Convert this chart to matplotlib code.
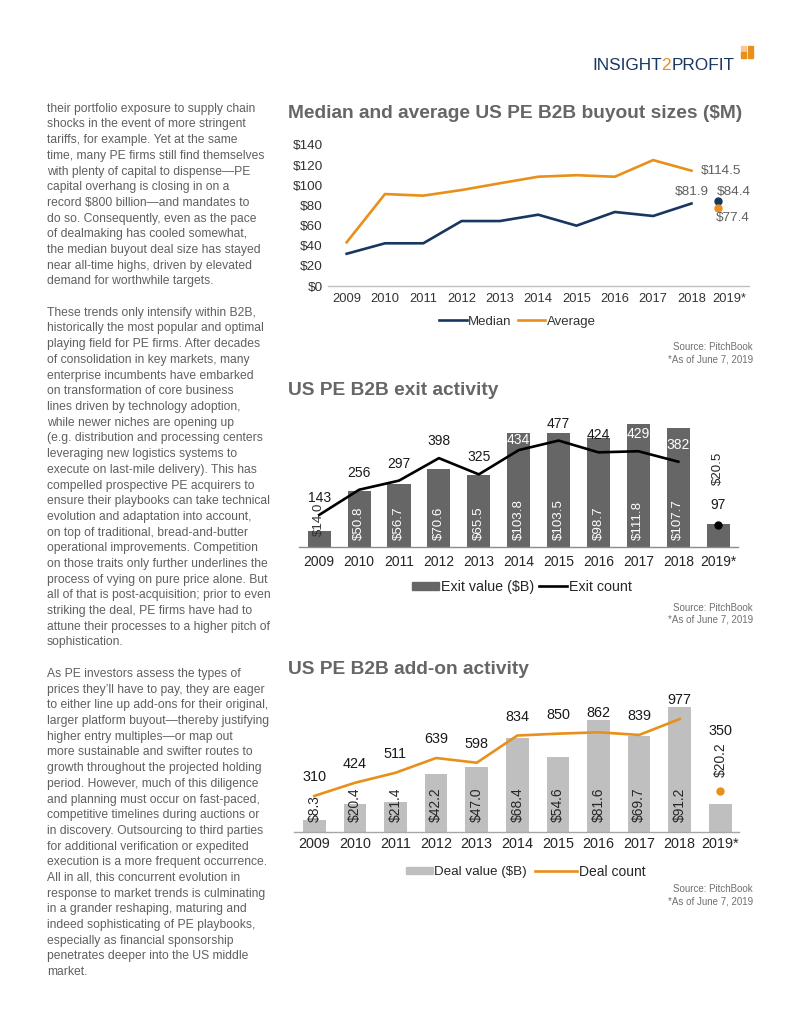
import matplotlib.pyplot as plt
from matplotlib.lines import Line2D
from matplotlib.patches import Patch, Rectangle

W, H = 800, 1035

YEARS = ["2009", "2010", "2011", "2012", "2013", "2014", "2015", "2016",
         "2017", "2018", "2019*"]

BUYOUT_MEDIAN = [32.0, 42.4, 42.4, 64.5, 64.5, 70.8, 59.9, 73.5, 69.5, 81.9, 84.4]
BUYOUT_AVERAGE = [43.4, 91.3, 89.7, 95.3, 102.0, 108.5, 110.0, 108.5, 125.0, 114.5, 77.4]

EXIT_VALUE = [14.0, 50.8, 56.7, 70.6, 65.5, 103.8, 103.5, 98.7, 111.8, 107.7, 20.5]
EXIT_COUNT = [143, 256, 297, 398, 325, 434, 477, 424, 429, 382, 97]

ADDON_VALUE = [8.3, 20.4, 21.4, 42.2, 47.0, 68.4, 54.6, 81.6, 69.7, 91.2, 20.2]
ADDON_COUNT = [310, 424, 511, 639, 598, 834, 850, 862, 839, 977, 350]

BODY = [
    "their portfolio exposure to supply chain",
    "shocks in the event of more stringent",
    "tariffs, for example. Yet at the same",
    "time, many PE firms still find themselves",
    "with plenty of capital to dispense\u2014PE",
    "capital overhang is closing in on a",
    "record $800 billion\u2014and mandates to",
    "do so. Consequently, even as the pace",
    "of dealmaking has cooled somewhat,",
    "the median buyout deal size has stayed",
    "near all-time highs, driven by elevated",
    "demand for worthwhile targets.",
    "",
    "These trends only intensify within B2B,",
    "historically the most popular and optimal",
    "playing field for PE firms. After decades",
    "of consolidation in key markets, many",
    "enterprise incumbents have embarked",
    "on transformation of core business",
    "lines driven by technology adoption,",
    "while newer niches are opening up",
    "(e.g. distribution and processing centers",
    "leveraging new logistics systems to",
    "execute on last-mile delivery). This has",
    "compelled prospective PE acquirers to",
    "ensure their playbooks can take technical",
    "evolution and adaptation into account,",
    "on top of traditional, bread-and-butter",
    "operational improvements. Competition",
    "on those traits only further underlines the",
    "process of vying on pure price alone. But",
    "all of that is post-acquisition; prior to even",
    "striking the deal, PE firms have had to",
    "attune their processes to a higher pitch of",
    "sophistication.",
    "",
    "As PE investors assess the types of",
    "prices they\u2019ll have to pay, they are eager",
    "to either line up add-ons for their original,",
    "larger platform buyout\u2014thereby justifying",
    "higher entry multiples\u2014or map out",
    "more sustainable and swifter routes to",
    "growth throughout the projected holding",
    "period. However, much of this diligence",
    "and planning must occur on fast-paced,",
    "competitive timelines during auctions or",
    "in discovery. Outsourcing to third parties",
    "for additional verification or expedited",
    "execution is a more frequent occurrence.",
    "All in all, this concurrent evolution in",
    "response to market trends is culminating",
    "in a grander reshaping, maturing and",
    "indeed sophisticating of PE playbooks,",
    "especially as financial sponsorship",
    "penetrates deeper into the US middle",
    "market.",
]

NAVY = "#17375E"
ORANGE = "#E8901A"
GREY_TEXT = "#606060"

plt.rcParams["font.family"] = ["Liberation Sans", "DejaVu Sans"]


def px_axes(fig, left, top, right, bottom):
    return fig.add_axes([left / W, 1 - bottom / H, (right - left) / W, (bottom - top) / H])


def ftext(fig, x, y, s, **kw):
    return fig.text(x / W, 1 - y / H, s, **kw)


def legend_item(fig, handle, label, x_left, y, fontsize, hl, color, hh=0.7):
    fig.legend([handle], [label], loc="center left",
               bbox_to_anchor=(x_left / W, 1 - y / H), frameon=False,
               fontsize=fontsize, handlelength=hl, handleheight=hh,
               handletextpad=0.12, borderpad=0, borderaxespad=0,
               labelcolor=color)


def clean(ax, spine_color):
    for s in ["top", "right", "left"]:
        ax.spines[s].set_visible(False)
    ax.spines["bottom"].set_color(spine_color)
    ax.spines["bottom"].set_linewidth(1.0)


def main():
    fig = plt.figure(figsize=(W / 100, H / 100), dpi=100)
    fig.patch.set_facecolor("white")

    # logo
    t1 = ftext(fig, 592, 70, "INSIGHT", fontsize=12.4, color=NAVY, va="baseline")
    fig.canvas.draw()
    r = fig.canvas.get_renderer()
    x = t1.get_window_extent(renderer=r).x1
    t2 = ftext(fig, x, 70, "2", fontsize=12.4, color=ORANGE, va="baseline")
    x = t2.get_window_extent(renderer=r).x1
    ftext(fig, x, 70, "PROFIT", fontsize=12.4, color=NAVY, va="baseline")
    for (sx, sy, c) in [(741, 46, "#F5C89A"), (747.5, 46, ORANGE),
                        (741, 52.5, ORANGE), (747.5, 52.5, ORANGE)]:
        fig.patches.append(Rectangle((sx / W, 1 - (sy + 5) / H), 5 / W, 5 / H,
                                     transform=fig.transFigure, color=c))

    # body text
    for k, line in enumerate(BODY):
        if line:
            ftext(fig, 47, 111.7 + k * 15.7, line, fontsize=8.7,
                  color=GREY_TEXT, va="baseline")

    x_idx = list(range(len(YEARS)))
    n_line = len(YEARS) - 1

    # ---------- chart 1 ----------
    ftext(fig, 288, 117.5, "Median and average US PE B2B buyout sizes ($M)",
          fontsize=13.8, fontweight="bold", color="#666666", va="baseline")
    ax1 = px_axes(fig, 327.5, 145, 748.9, 286)
    clean(ax1, "#BFBFBF")
    ax1.plot(x_idx[:n_line], BUYOUT_MEDIAN[:n_line], color=NAVY, lw=1.9)
    ax1.plot(x_idx[:n_line], BUYOUT_AVERAGE[:n_line], color=ORANGE, lw=1.9)
    ax1.plot(n_line - 0.3, BUYOUT_MEDIAN[-1], "o", color=NAVY, ms=5)
    ax1.plot(n_line - 0.3, BUYOUT_AVERAGE[-1], "o", color=ORANGE, ms=5)
    ax1.set_xlim(-0.5, 10.5)
    ax1.set_ylim(0, 140)
    ax1.set_yticks(range(0, 141, 20))
    ax1.set_yticklabels([f"${v}" for v in range(0, 141, 20)])
    ax1.set_xticks(x_idx)
    ax1.set_xticklabels(YEARS)
    ax1.tick_params(axis="y", length=0, pad=3.5, labelsize=9.7, colors="#333333")
    ax1.tick_params(axis="x", length=0, pad=5, labelsize=9.3, colors="#333333")
    lab = dict(textcoords="offset points", fontsize=9.7, color=GREY_TEXT)
    ax1.annotate(f"${BUYOUT_AVERAGE[n_line - 1]}", (n_line - 1, BUYOUT_AVERAGE[n_line - 1]),
                 xytext=(7, 0), ha="left", va="center", **lab)
    ax1.annotate(f"${BUYOUT_MEDIAN[n_line - 1]}", (n_line - 1, BUYOUT_MEDIAN[n_line - 1]),
                 xytext=(0, 8.5), ha="center", va="center", **lab)
    ax1.annotate(f"${BUYOUT_MEDIAN[-1]}", (n_line - 0.3, BUYOUT_MEDIAN[-1]),
                 xytext=(-1, 6.8), ha="left", va="center", **lab)
    ax1.annotate(f"${BUYOUT_AVERAGE[-1]}", (n_line - 0.3, BUYOUT_AVERAGE[-1]),
                 xytext=(-2, -7), ha="left", va="center", **lab)
    legend_item(fig, Line2D([], [], color=NAVY, lw=1.9), "Median", 439, 321.7,
                9.5, 2.1, "#333333")
    legend_item(fig, Line2D([], [], color=ORANGE, lw=1.9), "Average", 517.7, 321.7,
                9.5, 2.1, "#333333")
    ftext(fig, 752.7, 346.7, "Source: PitchBook", fontsize=7, color="#707070",
          ha="right", va="center")
    ftext(fig, 752.7, 359, "*As of June 7, 2019", fontsize=7, color="#707070",
          ha="right", va="center")

    # ---------- chart 2 ----------
    ftext(fig, 288, 395, "US PE B2B exit activity", fontsize=13.8,
          fontweight="bold", color="#666666", va="baseline")
    top2, base2 = 420, 546.7
    ax2 = px_axes(fig, 299.3, top2, 738.1, base2)
    clean(ax2, "#8C8C8C")
    b_top, c_top = 115.2, 569.4
    ax2.bar(x_idx, EXIT_VALUE, width=0.58, color="#666666")
    ax2.set_xlim(-0.5, 10.5)
    ax2.set_ylim(0, b_top)
    ax2.set_yticks([])
    ax2.set_xticks(x_idx)
    ax2.set_xticklabels(YEARS)
    ax2.tick_params(axis="x", length=0, pad=6, labelsize=10, colors="#262626")
    ax2b = ax2.twinx()
    for s in ax2b.spines.values():
        s.set_visible(False)
    ax2b.set_ylim(0, c_top)
    ax2b.set_yticks([])
    ax2b.plot(x_idx[:n_line], EXIT_COUNT[:n_line], color="black", lw=1.9)
    ax2b.plot(n_line, EXIT_COUNT[-1], "o", color="black", ms=5)
    h2 = base2 - top2
    for i, v in enumerate(EXIT_VALUE):
        if i == n_line:
            ax2b.annotate(f"${v}", (i, EXIT_COUNT[i]), xytext=(0, 28.8),
                          textcoords="offset points", rotation=90, ha="center",
                          va="bottom", fontsize=9.6, color="#262626")
        elif v < 30:
            ax2.annotate(f"${v}", (i, v), xytext=(0, -3.5), textcoords="offset points",
                         rotation=90, ha="center", va="bottom", fontsize=9.6,
                         color="#333333")
        else:
            ax2.annotate(f"${v}", (i, 0), xytext=(0, 4.8), textcoords="offset points",
                         rotation=90, ha="center", va="bottom", fontsize=9.6,
                         color="white")
    for i, c in enumerate(EXIT_COUNT):
        off = 17 if i < n_line else 20
        # label position and bar top, in pixels above the baseline
        lab_px = c / c_top * h2 + off
        bar_px = EXIT_VALUE[i] / b_top * h2
        inside = i < n_line and lab_px < bar_px
        if inside and lab_px + 6 > bar_px:
            off -= lab_px - (bar_px - 7)
        ax2b.annotate(str(c), (i, c), xytext=(0, off * 0.72), textcoords="offset points",
                      ha="center", va="center", fontsize=10,
                      color="white" if inside else "#1a1a1a")
    legend_item(fig, Patch(color="#666666"), "Exit value ($B)", 411.7, 586.7,
                10.3, 1.94, "#262626", hh=0.5)
    legend_item(fig, Line2D([], [], color="black", lw=1.9), "Exit count", 539, 586.7,
                10.3, 1.96, "#262626")
    ftext(fig, 752.7, 607.7, "Source: PitchBook", fontsize=7, color="#707070",
          ha="right", va="center")
    ftext(fig, 752.7, 619.5, "*As of June 7, 2019", fontsize=7, color="#707070",
          ha="right", va="center")

    # ---------- chart 3 ----------
    ftext(fig, 288, 674, "US PE B2B add-on activity", fontsize=13.8,
          fontweight="bold", color="#666666", va="baseline")
    top3, base3 = 700, 831.7
    ax3 = px_axes(fig, 294, top3, 738.6, base3)
    clean(ax3, "#A6A6A6")
    ax3.bar(x_idx, ADDON_VALUE, width=0.56, color="#BFBFBF")
    ax3.set_xlim(-0.5, 10.45)
    ax3.set_ylim(0, 96.3)
    ax3.set_yticks([])
    ax3.set_xticks(x_idx)
    ax3.set_xticklabels(YEARS)
    ax3.tick_params(axis="x", length=0, pad=4, labelsize=10.4, colors="#262626")
    ax3b = ax3.twinx()
    for s in ax3b.spines.values():
        s.set_visible(False)
    ax3b.set_ylim(0, 1142)
    ax3b.set_yticks([])
    ax3b.plot(x_idx[:n_line], ADDON_COUNT[:n_line], color=ORANGE, lw=1.9)
    ax3b.plot(n_line, ADDON_COUNT[-1], "o", color=ORANGE, ms=5)
    for i, v in enumerate(ADDON_VALUE):
        if i == n_line:
            ax3b.annotate(f"${v}", (i, ADDON_COUNT[i]), xytext=(0, 10),
                          textcoords="offset points", rotation=90, ha="center",
                          va="bottom", fontsize=9.9, color="#262626")
        else:
            ax3.annotate(f"${v}", (i, 0), xytext=(0, 7.2), textcoords="offset points",
                         rotation=90, ha="center", va="bottom", fontsize=9.9,
                         color="#262626")
    for i, c in enumerate(ADDON_COUNT):
        off = 19 if i < n_line else 60
        ax3b.annotate(str(c), (i, c), xytext=(0, off * 0.72), textcoords="offset points",
                      ha="center", va="center", fontsize=10.4, color="#1a1a1a")
    legend_item(fig, Patch(color="#BFBFBF"), "Deal value ($B)", 405.7, 872.3,
                9.6, 2.03, "#262626", hh=0.5)
    legend_item(fig, Line2D([], [], color=ORANGE, lw=1.9), "Deal count", 535, 872.3,
                10.0, 3.05, "#262626")
    ftext(fig, 752.7, 889, "Source: PitchBook", fontsize=7, color="#707070",
          ha="right", va="center")
    ftext(fig, 752.7, 901, "*As of June 7, 2019", fontsize=7, color="#707070",
          ha="right", va="center")

    fig.savefig("out.png", dpi=100, facecolor="white")


if __name__ == "__main__":
    main()
